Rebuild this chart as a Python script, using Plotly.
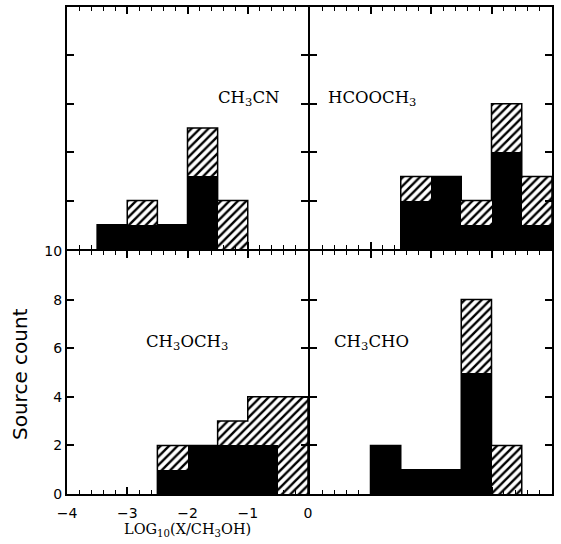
import plotly.graph_objects as go

# ---- data ----
bin_centers = [-3.25, -2.75, -2.25, -1.75, -1.25, -0.75, -0.25]
bin_width = 0.5

ch3cn_solid = [1, 1, 1, 3, 0, 0, 0]
ch3cn_hatched = [0, 1, 0, 2, 2, 0, 0]

hcooch3_solid = [0, 0, 2, 3, 1, 4, 1]
hcooch3_hatched = [0, 0, 1, 0, 1, 2, 2]

ch3och3_solid = [0, 0, 1, 2, 2, 2, 0]
ch3och3_hatched = [0, 0, 1, 0, 1, 2, 4]

ch3cho_solid = [0, 2, 1, 1, 5, 0, 0]
ch3cho_hatched = [0, 0, 0, 0, 3, 2, 0]

panel_names = ["CH<sub>3</sub>CN", "HCOOCH<sub>3</sub>", "CH<sub>3</sub>OCH<sub>3</sub>", "CH<sub>3</sub>CHO"]
x_ticks = [-4, -3, -2, -1, 0]
y_ticks = [0, 2, 4, 6, 8, 10]

panels = [
    (ch3cn_solid, ch3cn_hatched, "x", "y"),
    (hcooch3_solid, hcooch3_hatched, "x2", "y2"),
    (ch3och3_solid, ch3och3_hatched, "x3", "y3"),
    (ch3cho_solid, ch3cho_hatched, "x4", "y4"),
]
label_pos = [(-1.53, 6.2), (-3.74, 6.2), (-2.72, 6.25), (-3.64, 6.25)]

fig = go.Figure()
for solid, hatched, xa, ya in panels:
    fig.add_trace(go.Bar(
        x=bin_centers, y=solid, width=bin_width, xaxis=xa, yaxis=ya,
        marker=dict(color="black", line=dict(width=0)),
        showlegend=False))
    fig.add_trace(go.Bar(
        x=bin_centers, y=hatched, width=bin_width, xaxis=xa, yaxis=ya,
        marker=dict(color="white", line=dict(width=0),
                    pattern=dict(shape="/", size=6, solidity=0.4,
                                 fgcolor="black", bgcolor="white", fillmode="replace")),
        showlegend=False))
    # step outline of the total histogram (non-empty span only)
    totals = [s + h for s, h in zip(solid, hatched)]
    nz = [i for i, t in enumerate(totals) if t > 0]
    i0, i1 = nz[0], nz[-1]
    edges = [bin_centers[i] - bin_width / 2 for i in range(i0, i1 + 1)]
    xs = [edges[0]] + edges + [bin_centers[i1] + bin_width / 2]
    ys = [0] + totals[i0:i1 + 1] + [0]
    fig.add_trace(go.Scatter(
        x=xs, y=ys, mode="lines", line=dict(color="black", width=1.5, shape="hv"),
        xaxis=xa, yaxis=ya, showlegend=False, hoverinfo="skip"))

W, H = 561, 544
xl = [67 / W, 308 / W]
xr = [310 / W, 552 / W]
yt = [1 - 249 / H, 1 - 7 / H]
yb = [1 - 494 / H, 1 - 251 / H]

tickfont = dict(family="DejaVu Sans", size=14, color="black")


def xaxis(domain, anchor, labels):
    return dict(domain=domain, anchor=anchor, range=[-4, 0], showline=True, linewidth=2,
                linecolor="black", mirror="allticks", ticks="inside", ticklen=7,
                tickwidth=1.5, tickcolor="black", tickvals=x_ticks, showgrid=False,
                zeroline=False, showticklabels=labels, tickfont=tickfont, automargin=False,
                ticklabelstandoff=5,
                minor=dict(dtick=0.2, tick0=0, ticks="inside", ticklen=4, tickwidth=1,
                           tickcolor="black", showgrid=False))


def yaxis(domain, anchor, labels):
    return dict(domain=domain, anchor=anchor, range=[0, 10], showline=True, linewidth=2,
                linecolor="black", mirror="allticks", ticks="inside", ticklen=7,
                tickwidth=1.5, tickcolor="black", tickvals=y_ticks, showgrid=False,
                zeroline=False, showticklabels=labels, tickfont=tickfont, automargin=False)


annotations = []
for (xa, ya), name, (lx, ly) in zip([(p[2], p[3]) for p in panels], panel_names, label_pos):
    annotations.append(dict(x=lx, y=ly, xref=xa, yref=ya, text=name, showarrow=False,
                            xanchor="left", yanchor="middle",
                            font=dict(family="DejaVu Serif", size=16.5, color="black")))
annotations.append(dict(x=187 / W, y=1 - 530 / H, xref="paper", yref="paper",
                        text="LOG<sub>10</sub>(X/CH<sub>3</sub>OH)", showarrow=False,
                        xanchor="center", yanchor="middle",
                        font=dict(family="DejaVu Serif", size=14.5, color="black")))
annotations.append(dict(x=20 / W, y=1 - 374 / H, xref="paper", yref="paper",
                        text="Source count", textangle=-90, showarrow=False,
                        xanchor="center", yanchor="middle",
                        font=dict(family="DejaVu Sans", size=20, color="black")))

fig.update_layout(
    width=W, height=H, margin=dict(l=0, r=0, t=0, b=0, pad=0, autoexpand=False),
    paper_bgcolor="white", plot_bgcolor="white",
    barmode="stack", bargap=0, showlegend=False,
    xaxis=xaxis(xl, "y", False), yaxis=yaxis(yt, "x", False),
    xaxis2=xaxis(xr, "y2", False), yaxis2=yaxis(yt, "x2", False),
    xaxis3=xaxis(xl, "y3", True), yaxis3=yaxis(yb, "x3", True),
    xaxis4=xaxis(xr, "y4", False), yaxis4=yaxis(yb, "x4", False),
    annotations=annotations,
)

fig.write_html("out.html")
